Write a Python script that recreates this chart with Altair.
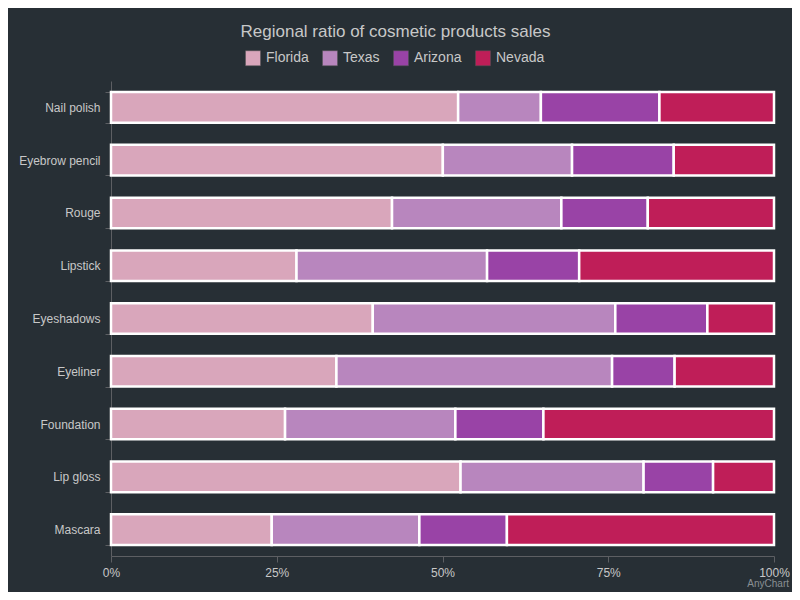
import altair as alt
import pandas as pd

products = ["Nail polish", "Eyebrow pencil", "Rouge", "Lipstick", "Eyeshadows",
            "Eyeliner", "Foundation", "Lip gloss", "Mascara"]
florida = [12814, 13012, 11624, 8814, 12998, 12321, 10342, 22998, 11261]
texas = [3054, 5067, 7004, 9054, 12043, 15067, 10119, 12043, 10342]
arizona = [4376, 3987, 3574, 4376, 4572, 3417, 5231, 4572, 6134]
nevada = [4229, 3932, 5221, 9256, 3308, 5432, 13701, 4008, 18712]
regions = ["Florida", "Texas", "Arizona", "Nevada"]
colors = ["#d9a6bb", "#b886be", "#9943a6", "#bf1e58"]
x_ticks = [0, 0.25, 0.5, 0.75, 1]

rows = []
for series_idx, (name, vals) in enumerate(zip(regions, [florida, texas, arizona, nevada])):
    for p, v in zip(products, vals):
        rows.append({"product": p, "region": name, "value": v, "order": series_idx})
df = pd.DataFrame(rows)

bars = alt.Chart(df).mark_bar(stroke="white", strokeWidth=2.5).encode(
    y=alt.Y("product:N", sort=products, title=None,
            scale=alt.Scale(paddingInner=0.42, paddingOuter=0.21),
            axis=alt.Axis(tickBand="extent", labelColor="#c8c8c8", labelFontSize=12,
                          labelFont="Liberation Sans", domainColor="#5d5f63", tickColor="#5d5f63",
                          tickSize=6, labelPadding=5, grid=False)),
    x=alt.X("value:Q", stack="normalize", title=None,
            axis=alt.Axis(values=x_ticks, format=".0%", labelColor="#c8c8c8", labelFontSize=12,
                          labelFont="Liberation Sans", domainColor="#5d5f63", tickColor="#5d5f63",
                          tickSize=6, labelPadding=5, grid=False, labelFlush=False)),
    color=alt.Color("region:N", sort=regions,
                    scale=alt.Scale(domain=regions, range=colors),
                    legend=alt.Legend(title=None, orient="none", direction="horizontal",
                                      legendX=134, legendY=-31, symbolType="square",
                                      symbolSize=225, symbolStrokeColor="#555", symbolStrokeWidth=0.5,
                                      labelColor="#c8c8c8", labelFontSize=14,
                                      labelFont="Liberation Sans", columnPadding=12,
                                      labelOffset=5)),
    order=alt.Order("order:Q"),
    tooltip=["product", "region", "value"],
)

credit = alt.Chart(pd.DataFrame({"t": ["AnyChart"]})).mark_text(
    align="right", baseline="middle", fontSize=10, color="#8a8f94", font="Liberation Sans"
).encode(text="t:N", x=alt.value(678), y=alt.value(503))

chart = alt.layer(bars, credit).properties(
    width=663, height=475,
    background="#272f35",
    autosize=alt.AutoSizeParams(type="none"),
    padding={"left": 103, "top": 73, "right": 18, "bottom": 36},
    title=alt.TitleParams("Regional ratio of cosmetic products sales", color="#c8c8c8",
                          fontSize=17, font="Liberation Sans", fontWeight="normal",
                          anchor="middle", dx=-47, offset=9),
).configure_view(stroke=None)

chart.save("out.html", embed_options={"renderer": "svg", "actions": False})
